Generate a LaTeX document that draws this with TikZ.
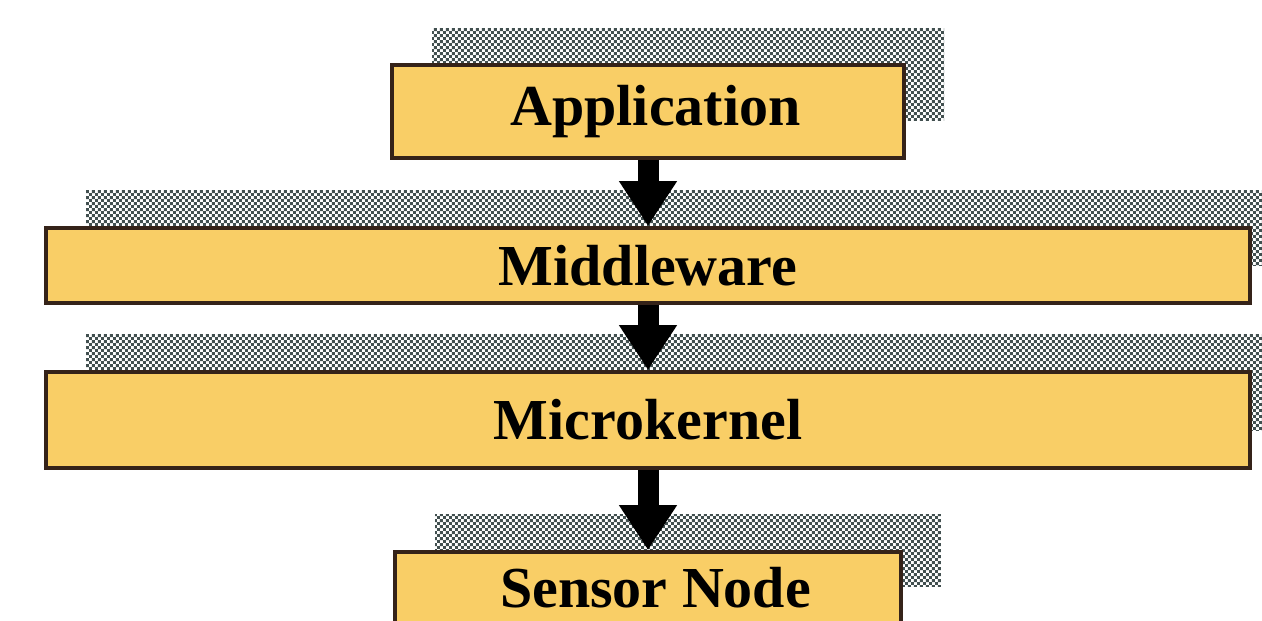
\documentclass[tikz,border=0pt]{standalone}
\usepackage{fontspec}
\setmainfont{Liberation Serif}
\usetikzlibrary{arrows.meta,shadows,patterns}

\pgfdeclarepatternformonly{checker}{\pgfqpoint{0cm}{0cm}}{\pgfqpoint{0.12cm}{0.12cm}}{\pgfqpoint{0.12cm}{0.12cm}}{
  \pgfpathrectangle{\pgfqpoint{0cm}{0cm}}{\pgfqpoint{0.06cm}{0.06cm}}
  \pgfpathrectangle{\pgfqpoint{0.06cm}{0.06cm}}{\pgfqpoint{0.06cm}{0.06cm}}
  \pgfusepath{fill}}

\definecolor{layerfill}{RGB}{249,206,102}
\definecolor{layerline}{RGB}{53,35,25}
\definecolor{shadowgray}{RGB}{66,80,80}

\tikzset{
  layer/.style={draw=layerline,line width=2.2pt,fill=layerfill,inner sep=0pt,
    font=\fontsize{33}{38}\selectfont\bfseries,
    general shadow={pattern=checker,pattern color=shadowgray,
      shadow xshift=0.8cm,shadow yshift=0.74cm}},
  flow/.style={line width=0.42cm,-{Triangle[width=1.1cm,length=0.9cm]}}
}

\begin{document}
\begin{tikzpicture}
  \useasboundingbox (0,0) rectangle (25.24,12.42);
  \node[layer,minimum width=10.24cm,minimum height=1.86cm] (app) at (12.96,10.19) {\hspace{0.3cm}Application};
  \node[layer,minimum width=24.08cm,minimum height=1.5cm]  (mid) at (12.96,7.11)  {Middleware};
  \node[layer,minimum width=24.08cm,minimum height=1.92cm] (ker) at (12.96,4.02)  {Microkernel};
  \node[layer,minimum width=10.12cm,minimum height=1.44cm] (sen) at (12.96,0.66)  {\hspace{0.3cm}Sensor Node};
  \draw[flow] (app.south) -- (mid.north);
  \draw[flow] (mid.south) -- (ker.north);
  \draw[flow] (ker.south) -- (sen.north);
\end{tikzpicture}
\end{document}
